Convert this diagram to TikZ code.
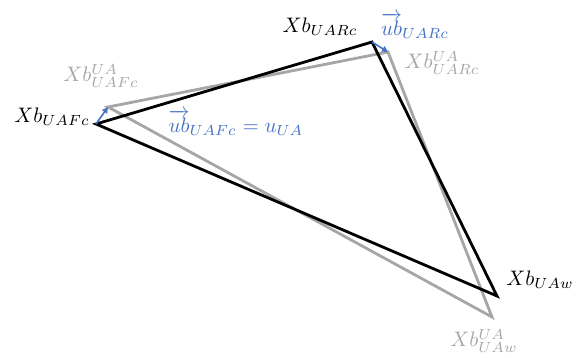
\documentclass[tikz,border=0pt]{standalone}
\usepackage{graphicx}
\usepackage{amsmath,amssymb}
\usepackage{tikz}
\usetikzlibrary{positioning,arrows.meta}

\definecolor{ubblue}{HTML}{4472C4}
\definecolor{uagray}{HTML}{A6A6A6}

\newcommand{\lbltext}[1]{\scalebox{2.1}{$#1$}}

\begin{document}
\begin{tikzpicture}[
  x=1pt, y=-1pt,
  every node/.style={align=center},
  tri/.style    ={line width=2.8pt, line join=miter},
  tri-b/.style  ={tri, draw=black},
  tri-ua/.style ={tri, draw=uagray},
  lbl/.style    ={inner sep=0pt},
  lbl-ua/.style ={lbl, text=uagray},
  lbl-u/.style  ={lbl, text=ubblue},
  vec/.style    ={draw=ubblue, line width=1.6pt,
                  -{Triangle[length=6pt,width=6pt]}},
]
\useasboundingbox (0,0) rectangle (581,357);

% --- Sommets ---
\coordinate (fc)    at (96,124);
\coordinate (rc)    at (372,42);
\coordinate (w)     at (497,296);
\coordinate (fc-ua) at (108,107);
\coordinate (rc-ua) at (388,52);
\coordinate (w-ua)  at (492,317);

% --- Triangles ---
\draw[tri-ua] (fc-ua) -- (rc-ua) -- (w-ua) -- cycle;
\draw[tri-b]  (fc) -- (rc) -- (w) -- cycle;

% --- Vecteurs ---
\draw[vec] (fc) -- (fc-ua);
\draw[vec] (rc) -- (rc-ua);

% --- Etiquettes ---
\node[lbl]    (l-fc)    at (52,117)  {\lbltext{Xb_{UAFc}}};
\node[lbl-ua] (l-fc-ua) at (101,76)  {\lbltext{Xb^{UA}_{UAFc}}};
\node[lbl]    (l-rc)    at (320,27)  {\lbltext{Xb_{UARc}}};
\node[lbl-u]  (l-rc-u)  at (415,26)  {\lbltext{\overrightarrow{ub}_{UARc}}};
\node[lbl-ua] (l-rc-ua) at (442,63)  {\lbltext{Xb^{UA}_{UARc}}};
\node[lbl-u]  (l-fc-u)  at (236,123) {\lbltext{\overrightarrow{ub}_{UAFc}=u_{UA}}};
\node[lbl]    (l-w)     at (540,280) {\lbltext{Xb_{UAw}}};
\node[lbl-ua] (l-w-ua)  at (484,341) {\lbltext{Xb^{UA}_{UAw}}};

\end{tikzpicture}
\end{document}
